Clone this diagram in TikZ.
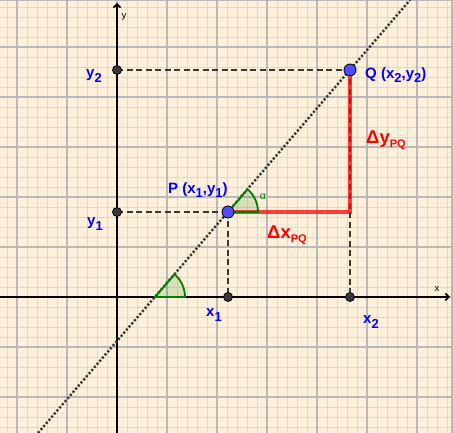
\documentclass[tikz,border=0pt]{standalone}
\usepackage{fontspec}
\setmainfont{Liberation Sans}
\usetikzlibrary{arrows.meta}
\definecolor{bgc}{RGB}{254,240,218}
\definecolor{minorc}{RGB}{232,214,190}
\definecolor{majorc}{RGB}{185,185,185}
\definecolor{ggblue}{RGB}{0,0,255}
\definecolor{ptblue}{RGB}{77,77,255}
\definecolor{dkgray}{RGB}{55,55,55}
\definecolor{ggred}{RGB}{255,0,0}
\definecolor{gggreen}{RGB}{0,128,0}
\newcommand{\lsub}[1]{\raisebox{-4.5pt}{\fontsize{13}{13}\selectfont #1}}
\newcommand{\dsub}[1]{\raisebox{-4pt}{\fontsize{11}{11}\selectfont #1}}
\begin{document}
\begin{tikzpicture}[x=1pt,y=1pt,
  minorline/.style={minorc, line width=0.9pt},
  majorline/.style={majorc, line width=1.1pt},
  axisline/.style={black, line width=2pt, -{Straight Barb[length=3.5pt,width=7pt,line width=1.6pt]}},
  dotline/.style={dkgray, line width=2.4pt, dash pattern=on 2.2pt off 1.9pt},
  dashline/.style={dkgray, line width=2.4pt, dash pattern=on 6pt off 3.5pt},
  redline/.style={ggred, line width=4pt, opacity=0.75},
  anglemark/.style={draw=gggreen, line width=1.8pt, fill=gggreen, fill opacity=0.15},
  axpt/.style={circle, fill=dkgray, draw=black, line width=0.8pt, minimum size=9pt, inner sep=0pt},
  bpt/.style={circle, fill=ptblue, draw=black, line width=0.8pt, minimum size=12pt, inner sep=0pt},
  lab/.style={text=ggblue, font=\fontsize{15}{15}\selectfont\bfseries, inner sep=0pt},
  dlab/.style={text=ggred, font=\fontsize{18.5}{18.5}\selectfont\bfseries, inner sep=0pt},
  axlab/.style={text=black, font=\fontsize{9.5}{9.5}\selectfont, inner sep=0pt},
  alab/.style={text=gggreen, font=\fontsize{10.5}{10.5}\selectfont, inner sep=0pt}
]
\useasboundingbox (0,0) rectangle (453,433);
\fill[bgc] (0,0) rectangle (453,433);
% grid
\foreach \gx in {7,17,...,447} \draw[minorline] (\gx,0) -- (\gx,433);
\foreach \gy in {6,16,...,426} \draw[minorline] (0,\gy) -- (453,\gy);
\foreach \gx in {17,67,...,417} \draw[majorline] (\gx,0) -- (\gx,433);
\foreach \gy in {36,86,...,386} \draw[majorline] (0,\gy) -- (453,\gy);
\draw[majorc, line width=2pt] (452,0) -- (452,433);
\draw[majorc, line width=1pt] (0,432.5) -- (453,432.5);

% key coordinates
\coordinate (o) at (117,136);
\coordinate (xend) at (450,136);
\coordinate (xstart) at (0,136);
\coordinate (ystart) at (117,0);
\coordinate (yend) at (117,430);
\coordinate (p) at (228,221);
\coordinate (q) at (350,363);
\coordinate (y2) at (117,363);
\coordinate (y1) at (117,221);
\coordinate (x1) at (228,136);
\coordinate (x2) at (350,136);
\coordinate (r) at (350,221);
\coordinate (a) at (155,136);
\coordinate (lstart) at (38,0);
\coordinate (lend) at (410,433);

% axes
\draw[axisline] (xstart) -- (xend);
\draw[axisline] (ystart) -- (yend);
\node[axlab] (xl) at (437,144) {x};
\node[axlab] (yl) at (124,416) {y};

% dotted line
\begin{scope}
\clip (0,0) rectangle (451,432);
\draw[dotline] (lstart) -- (lend);
\end{scope}

% dashed helpers
\draw[dashline] (y2) -- (q);
\draw[dashline] (y1) -- (p);
\draw[dashline] (p) -- (x1);
\draw[dashline] (q) -- (x2);

% red increments
\draw[redline] (p) -- (r) -- (q);

% angle marks
\filldraw[anglemark] (a) -- ++(30,0) arc[start angle=0, end angle=49.33, radius=30pt] -- cycle;
\filldraw[anglemark] (p) -- ++(30,0) arc[start angle=0, end angle=49.33, radius=30pt] -- cycle;
\node[alab] (alpha) at (263,236) {α};

% points
\node[axpt] (Y2) at (y2) {};
\node[axpt] (Y1) at (y1) {};
\node[axpt] (X1) at (x1) {};
\node[axpt] (X2) at (x2) {};
\node[bpt] (P) at (p) {};
\node[bpt] (Q) at (q) {};

% labels
\node[lab, anchor=west] (ly2) at (86,357) {y\lsub{2}};
\node[lab, anchor=west] (ly1) at (87,209) {y\lsub{1}};
\node[lab, anchor=west] (lx1) at (206,118) {x\lsub{1}};
\node[lab, anchor=west] (lx2) at (363,111) {x\lsub{2}};
\node[lab, anchor=west] (lP) at (168,243) {P (x\lsub{1},y\lsub{1})};
\node[lab, anchor=west] (lQ) at (365,358) {Q (x\lsub{2},y\lsub{2})};
\node[dlab, anchor=west] (ldx) at (267,198) {Δx\dsub{PQ}};
\node[dlab, anchor=west] (ldy) at (366,293) {Δy\dsub{PQ}};
\end{tikzpicture}
\end{document}
